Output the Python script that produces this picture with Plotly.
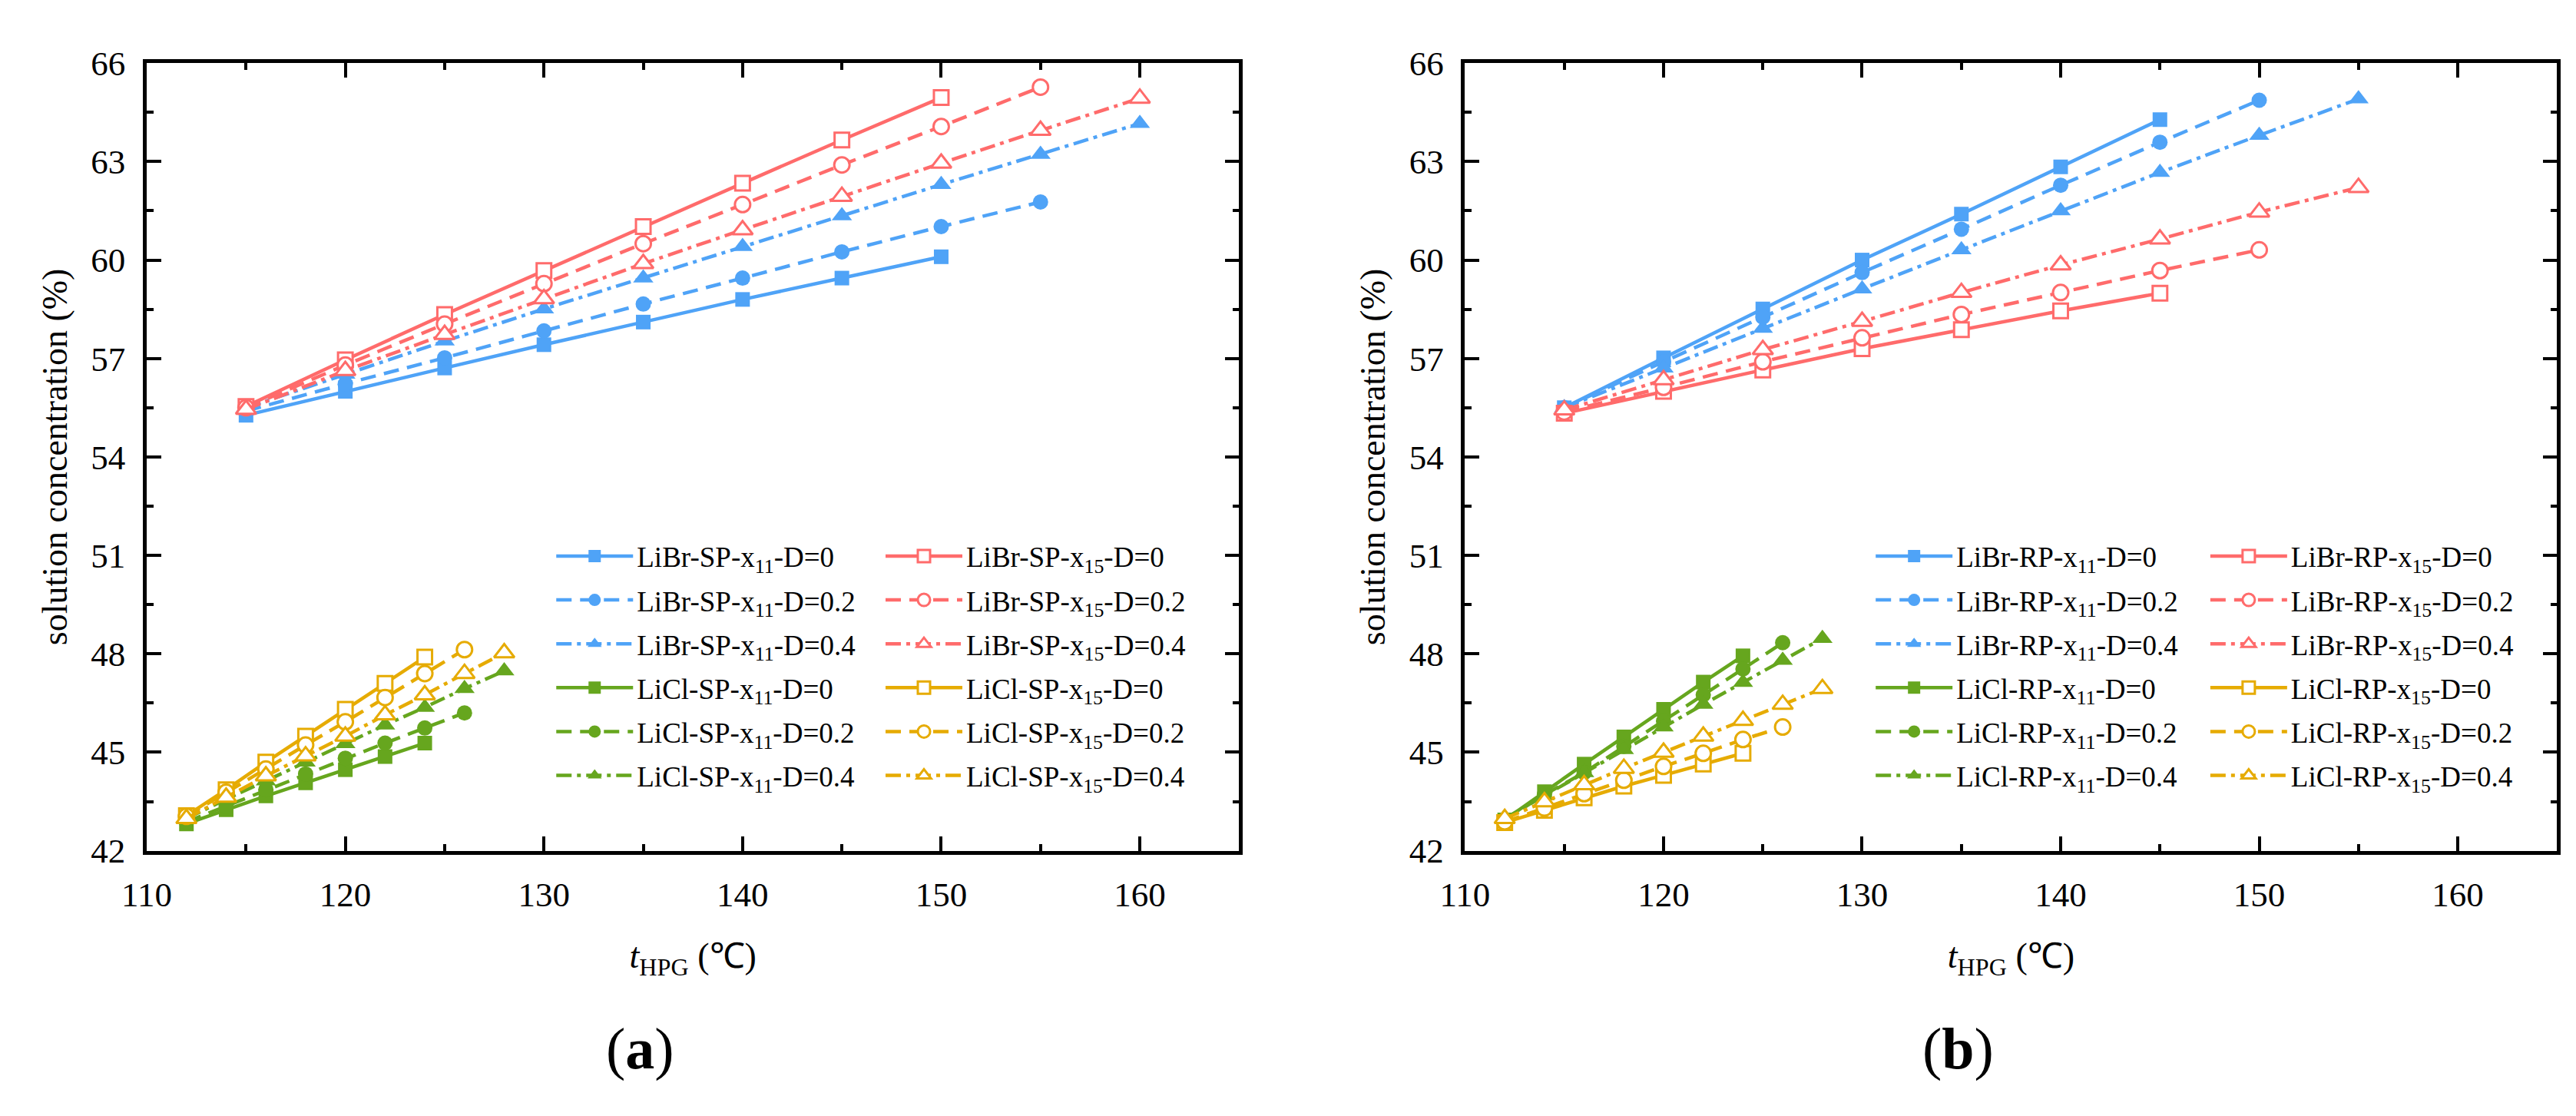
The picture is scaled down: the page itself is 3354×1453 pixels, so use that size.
import plotly.graph_objects as go

# ---------------- data ----------------
t_librbr_115_145 = [115, 120, 125, 130, 135, 140, 145]
t_librbr_115_150 = [115, 120, 125, 130, 135, 140, 145, 150]
t_librbr_115_155 = [115, 120, 125, 130, 135, 140, 145, 150, 155]
t_librbr_115_160 = [115, 120, 125, 130, 135, 140, 145, 150, 155, 160]
t_licl_124 = [112, 114, 116, 118, 120, 122, 124]
t_licl_126 = [112, 114, 116, 118, 120, 122, 124, 126]
t_licl_128 = [112, 114, 116, 118, 120, 122, 124, 126, 128]

# panel (a) : SP
a_librbr_x11_d0 = [55.27, 56.00, 56.71, 57.42, 58.11, 58.80, 59.45, 60.10]
a_librbr_x11_d02 = [55.40, 56.23, 57.02, 57.84, 58.66, 59.45, 60.25, 61.02, 61.77]
a_librbr_x11_d04 = [55.50, 56.52, 57.53, 58.51, 59.45, 60.41, 61.35, 62.30, 63.22, 64.16]
a_librbr_x15_d0 = [55.54, 56.96, 58.34, 59.68, 61.02, 62.34, 63.66, 64.95]
a_librbr_x15_d02 = [55.50, 56.80, 58.05, 59.28, 60.50, 61.69, 62.90, 64.07, 65.27]
a_librbr_x15_d04 = [55.45, 56.63, 57.73, 58.82, 59.89, 60.92, 61.94, 62.95, 63.95, 64.93]
a_licl_x11_d0 = [42.82, 43.25, 43.67, 44.07, 44.47, 44.87, 45.28]
a_licl_x11_d02 = [42.88, 43.36, 43.86, 44.34, 44.82, 45.28, 45.74, 46.20]
a_licl_x11_d04 = [42.98, 43.57, 44.13, 44.70, 45.26, 45.83, 46.37, 46.94, 47.48]
a_licl_x15_d0 = [43.07, 43.86, 44.70, 45.49, 46.31, 47.10, 47.90]
a_licl_x15_d02 = [43.05, 43.78, 44.49, 45.22, 45.93, 46.67, 47.40, 48.13]
a_licl_x15_d04 = [42.98, 43.63, 44.28, 44.89, 45.49, 46.14, 46.75, 47.40, 48.03]

# panel (b) : RP
b_librbr_x11_d0 = [55.50, 57.02, 58.51, 60.00, 61.40, 62.84, 64.28]
b_librbr_x11_d02 = [55.50, 56.90, 58.26, 59.62, 60.94, 62.28, 63.59, 64.87]
b_librbr_x11_d04 = [55.50, 56.71, 57.92, 59.12, 60.31, 61.50, 62.67, 63.80, 64.91]
b_librbr_x15_d0 = [55.33, 56.00, 56.65, 57.30, 57.88, 58.45, 58.99]
b_librbr_x15_d02 = [55.37, 56.12, 56.90, 57.63, 58.34, 59.01, 59.68, 60.31]
b_librbr_x15_d04 = [55.43, 56.35, 57.27, 58.13, 59.01, 59.85, 60.64, 61.46, 62.21]
b_licl_x11_d0 = [42.94, 43.80, 44.64, 45.47, 46.31, 47.14, 47.94]
b_licl_x11_d02 = [42.94, 43.71, 44.38, 45.18, 45.95, 46.75, 47.54, 48.34]
b_licl_x11_d04 = [42.98, 43.68, 44.38, 45.08, 45.77, 46.46, 47.13, 47.80, 48.47]
b_licl_x15_d0 = [42.86, 43.23, 43.61, 43.97, 44.30, 44.64, 44.97]
b_licl_x15_d02 = [42.88, 43.30, 43.74, 44.15, 44.57, 44.97, 45.39, 45.77]
b_licl_x15_d04 = [42.98, 43.49, 44.01, 44.51, 45.00, 45.49, 45.97, 46.46, 46.94]

x_ticks = [110, 120, 130, 140, 150, 160]
y_ticks = [42, 45, 48, 51, 54, 57, 60, 63, 66]

# ---------------- style ----------------
BLUE = "#4FA3F7"
RED = "#FF6B6B"
GREEN = "#66A61E"
YELLOW = "#E6AB02"
FONT = "Liberation Serif"
DASH = {"0": "solid", "0.2": "20px,11px", "0.4": "20px,7px,5px,7px"}
SYM = {"0": "square", "0.2": "circle", "0.4": "triangle-up"}
MSIZE = {"0": 19, "0.2": 20, "0.4": 23}

fig = go.Figure()


def add(x, y, name, color, d, filled, xa, ya, legend):
    fig.add_trace(go.Scatter(
        x=x, y=y, name=name, mode="lines+markers",
        xaxis=xa, yaxis=ya, legend=legend, legendgroup=name,
        line=dict(color=color, width=4.5, dash=DASH[d]),
        marker=dict(symbol=SYM[d], size=MSIZE[d],
                    color=color if filled else "white",
                    line=dict(color=color, width=0 if filled else 3)),
    ))


def lab(salt, pos, sub, d):
    return f"{salt}-{pos}-x<sub>{sub}</sub>-D={d}"


# panel a
add(t_librbr_115_150, a_librbr_x11_d0, lab("LiBr", "SP", 11, "0"), BLUE, "0", True, "x", "y", "legend")
add(t_librbr_115_155, a_librbr_x11_d02, lab("LiBr", "SP", 11, "0.2"), BLUE, "0.2", True, "x", "y", "legend")
add(t_librbr_115_160, a_librbr_x11_d04, lab("LiBr", "SP", 11, "0.4"), BLUE, "0.4", True, "x", "y", "legend")
add(t_licl_124, a_licl_x11_d0, lab("LiCl", "SP", 11, "0"), GREEN, "0", True, "x", "y", "legend")
add(t_licl_126, a_licl_x11_d02, lab("LiCl", "SP", 11, "0.2"), GREEN, "0.2", True, "x", "y", "legend")
add(t_licl_128, a_licl_x11_d04, lab("LiCl", "SP", 11, "0.4"), GREEN, "0.4", True, "x", "y", "legend")
add(t_librbr_115_150, a_librbr_x15_d0, lab("LiBr", "SP", 15, "0"), RED, "0", False, "x", "y", "legend2")
add(t_librbr_115_155, a_librbr_x15_d02, lab("LiBr", "SP", 15, "0.2"), RED, "0.2", False, "x", "y", "legend2")
add(t_librbr_115_160, a_librbr_x15_d04, lab("LiBr", "SP", 15, "0.4"), RED, "0.4", False, "x", "y", "legend2")
add(t_licl_124, a_licl_x15_d0, lab("LiCl", "SP", 15, "0"), YELLOW, "0", False, "x", "y", "legend2")
add(t_licl_126, a_licl_x15_d02, lab("LiCl", "SP", 15, "0.2"), YELLOW, "0.2", False, "x", "y", "legend2")
add(t_licl_128, a_licl_x15_d04, lab("LiCl", "SP", 15, "0.4"), YELLOW, "0.4", False, "x", "y", "legend2")

# panel b
add(t_librbr_115_145, b_librbr_x11_d0, lab("LiBr", "RP", 11, "0"), BLUE, "0", True, "x2", "y2", "legend3")
add(t_librbr_115_150, b_librbr_x11_d02, lab("LiBr", "RP", 11, "0.2"), BLUE, "0.2", True, "x2", "y2", "legend3")
add(t_librbr_115_155, b_librbr_x11_d04, lab("LiBr", "RP", 11, "0.4"), BLUE, "0.4", True, "x2", "y2", "legend3")
add(t_licl_124, b_licl_x11_d0, lab("LiCl", "RP", 11, "0"), GREEN, "0", True, "x2", "y2", "legend3")
add(t_licl_126, b_licl_x11_d02, lab("LiCl", "RP", 11, "0.2"), GREEN, "0.2", True, "x2", "y2", "legend3")
add(t_licl_128, b_licl_x11_d04, lab("LiCl", "RP", 11, "0.4"), GREEN, "0.4", True, "x2", "y2", "legend3")
add(t_librbr_115_145, b_librbr_x15_d0, lab("LiBr", "RP", 15, "0"), RED, "0", False, "x2", "y2", "legend4")
add(t_librbr_115_150, b_librbr_x15_d02, lab("LiBr", "RP", 15, "0.2"), RED, "0.2", False, "x2", "y2", "legend4")
add(t_librbr_115_155, b_librbr_x15_d04, lab("LiBr", "RP", 15, "0.4"), RED, "0.4", False, "x2", "y2", "legend4")
add(t_licl_124, b_licl_x15_d0, lab("LiCl", "RP", 15, "0"), YELLOW, "0", False, "x2", "y2", "legend4")
add(t_licl_126, b_licl_x15_d02, lab("LiCl", "RP", 15, "0.2"), YELLOW, "0.2", False, "x2", "y2", "legend4")
add(t_licl_128, b_licl_x15_d04, lab("LiCl", "RP", 15, "0.4"), YELLOW, "0.4", False, "x2", "y2", "legend4")

W, H = 3354, 1453
ydom = [1 - 1114 / H, 1 - 52 / H]


def xaxis(dom, anchor):
    return dict(domain=dom, anchor=anchor, range=[110, 165], tickvals=x_ticks,
                showline=True, linecolor="black", linewidth=4.5, mirror="ticks",
                ticks="inside", ticklen=19, tickwidth=4, tickcolor="black",
                minor=dict(ticks="inside", ticklen=9, tickwidth=4, tickcolor="black", dtick=5),
                showgrid=False, zeroline=False, ticklabelstandoff=14,
                tickfont=dict(family=FONT, size=45, color="black"),
                title=dict(text="<i>t</i><sub>HPG</sub> (℃)", standoff=40,
                           font=dict(family=FONT, size=46, color="black")))


def yaxis(anchor):
    return dict(domain=ydom, anchor=anchor, range=[42, 66], tickvals=y_ticks,
                showline=True, linecolor="black", linewidth=4.5, mirror="ticks",
                ticks="inside", ticklen=19, tickwidth=4, tickcolor="black",
                minor=dict(ticks="inside", ticklen=9, tickwidth=4, tickcolor="black", dtick=1.5),
                showgrid=False, zeroline=False, ticklabelstandoff=14,
                tickfont=dict(family=FONT, size=45, color="black"),
                title=dict(text="solution concentration (%)", standoff=18,
                           font=dict(family=FONT, size=46, color="black")))


def legend(x, y):
    return dict(x=x, y=y, xanchor="left", yanchor="top", bgcolor="rgba(0,0,0,0)",
                font=dict(family=FONT, size=37, color="black"), itemwidth=100,
                tracegroupgap=6, itemclick=False, itemdoubleclick=False)


ly = 1 - 685 / H
fig.update_layout(
    width=W, height=H, margin=dict(l=0, r=0, t=0, b=0),
    paper_bgcolor="white", plot_bgcolor="white",
    xaxis=xaxis([151.5 / W, 1588 / W], "y"),
    yaxis=yaxis("x"),
    xaxis2=xaxis([1885 / W, 3321 / W], "y2"),
    yaxis2=yaxis("x2"),
    legend=legend(685 / W, ly),
    legend2=legend(1118 / W, ly),
    legend3=legend(2420 / W, ly),
    legend4=legend(2860 / W, ly),
    annotations=[
        dict(text="(<b>a</b>)", x=800 / W, y=1 - 1381 / H, xref="paper", yref="paper",
             showarrow=False, xanchor="center", yanchor="middle",
             font=dict(family=FONT, size=76, color="black")),
        dict(text="(<b>b</b>)", x=2533 / W, y=1 - 1381 / H, xref="paper", yref="paper",
             showarrow=False, xanchor="center", yanchor="middle",
             font=dict(family=FONT, size=76, color="black")),
    ],
)

fig.write_html("out.html")
